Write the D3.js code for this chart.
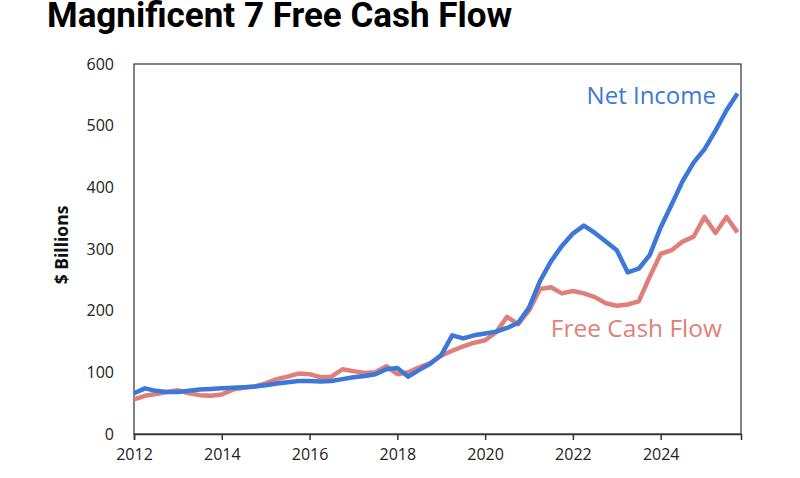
<!DOCTYPE html>
<html>
<head>
<meta charset="utf-8">
<script src="https://cdn.jsdelivr.net/npm/d3@7"></script>
<style>
  body { margin: 0; background: #fff; }
  svg { display: block; }
</style>
</head>
<body>
<svg id="chart" width="800" height="478"></svg>
<script>
// quarterly readings, 2012 Q1 .. 2025 Q4 (fractional years)
var years = [2012.00,2012.25,2012.50,2012.75,2013.00,2013.25,2013.50,2013.75,
  2014.00,2014.25,2014.50,2014.75,2015.00,2015.25,2015.50,2015.75,
  2016.00,2016.25,2016.50,2016.75,2017.00,2017.25,2017.50,2017.75,
  2018.00,2018.25,2018.50,2018.75,2019.00,2019.25,2019.50,2019.75,
  2020.00,2020.25,2020.50,2020.75,2021.00,2021.25,2021.50,2021.75,
  2022.00,2022.25,2022.50,2022.75,2023.00,2023.25,2023.50,2023.75,
  2024.00,2024.25,2024.50,2024.75,2025.00,2025.25,2025.50,2025.75];

var netIncome = [66,74,70,68,68,70,72,73,
  74,75,76,77,79,82,84,86,
  86,85,86,89,92,94,97,105,
  107,93,104,114,128,160,155,160,
  163,166,172,180,205,248,280,305,
  325,338,326,312,298,262,268,290,
  335,372,410,440,462,492,525,552];

var freeCashFlow = [56,62,65,68,71,66,63,62,
  64,72,75,77,82,89,93,98,
  97,92,93,105,102,99,100,110,
  97,100,108,115,127,135,142,148,
  152,165,190,178,200,235,238,228,
  232,228,222,212,208,210,215,255,
  292,298,312,320,352,326,352,327];

var xTicks = [2012,2014,2016,2018,2020,2022,2024];
var yTicks = [0,100,200,300,400,500,600];

var svg = d3.select("#chart");
var margin = {top: 64, right: 59, bottom: 44, left: 134},
    width = 800 - margin.left - margin.right,
    height = 478 - margin.top - margin.bottom;

var g = svg.append("g").attr("transform", "translate(" + margin.left + "," + margin.top + ")");

var x = d3.scaleLinear().domain([2012, 2025.83]).range([0, width]);
var y = d3.scaleLinear().domain([0, 600]).range([height, 0]);

// titre
svg.append("text")
  .attr("x", 47).attr("y", 27)
  .style("font", "bold 35px Roboto")
  .attr("fill", "#000")
  .text("Magnificent 7 Free Cash Flow");

// cadre
g.append("rect")
  .attr("width", width).attr("height", height)
  .attr("fill", "none").attr("stroke", "#333").attr("stroke-width", 1.2);

var xAxis = g.append("g")
  .attr("transform", "translate(0," + height + ")")
  .call(d3.axisBottom(x).tickValues(xTicks).tickFormat(d3.format("d")).tickSize(6).tickPadding(9));
xAxis.select(".domain").attr("stroke", "#333").attr("stroke-width", 1.5);
xAxis.selectAll("line").attr("stroke", "#333").attr("stroke-width", 1.5);
xAxis.selectAll("text").style("font", "16px 'Open Sans'").attr("fill", "#222");

var yAxis = g.append("g")
  .call(d3.axisLeft(y).tickValues(yTicks).tickSize(0).tickPadding(20));
yAxis.select(".domain").remove();
yAxis.selectAll("text").style("font", "16px 'Open Sans'").attr("fill", "#222");

svg.append("text")
  .attr("transform", "translate(68,245) rotate(-90)")
  .attr("text-anchor", "middle")
  .style("font", "bold 17.5px 'Open Sans'")
  .attr("fill", "#111")
  .text("$ Billions");

var line = d3.line()
  .x(function(d, i) { return x(years[i]); })
  .y(function(d) { return y(d); });

g.append("path").datum(freeCashFlow)
  .attr("fill", "none").attr("stroke", "#e07f7a").attr("stroke-width", 4.5)
  .attr("stroke-linejoin", "round")
  .attr("d", line);

g.append("path").datum(netIncome)
  .attr("fill", "none").attr("stroke", "#3b78d8").attr("stroke-width", 4.5)
  .attr("stroke-linejoin", "round")
  .attr("d", line);

svg.append("text")
  .attr("x", 716).attr("y", 104).attr("text-anchor", "end")
  .style("font", "24px 'Open Sans'").attr("fill", "#3b78d8")
  .text("Net Income");

svg.append("text")
  .attr("x", 722).attr("y", 337).attr("text-anchor", "end")
  .style("font", "24.5px 'Open Sans'").attr("fill", "#e07f7a")
  .text("Free Cash Flow");
</script>
</body>
</html>
